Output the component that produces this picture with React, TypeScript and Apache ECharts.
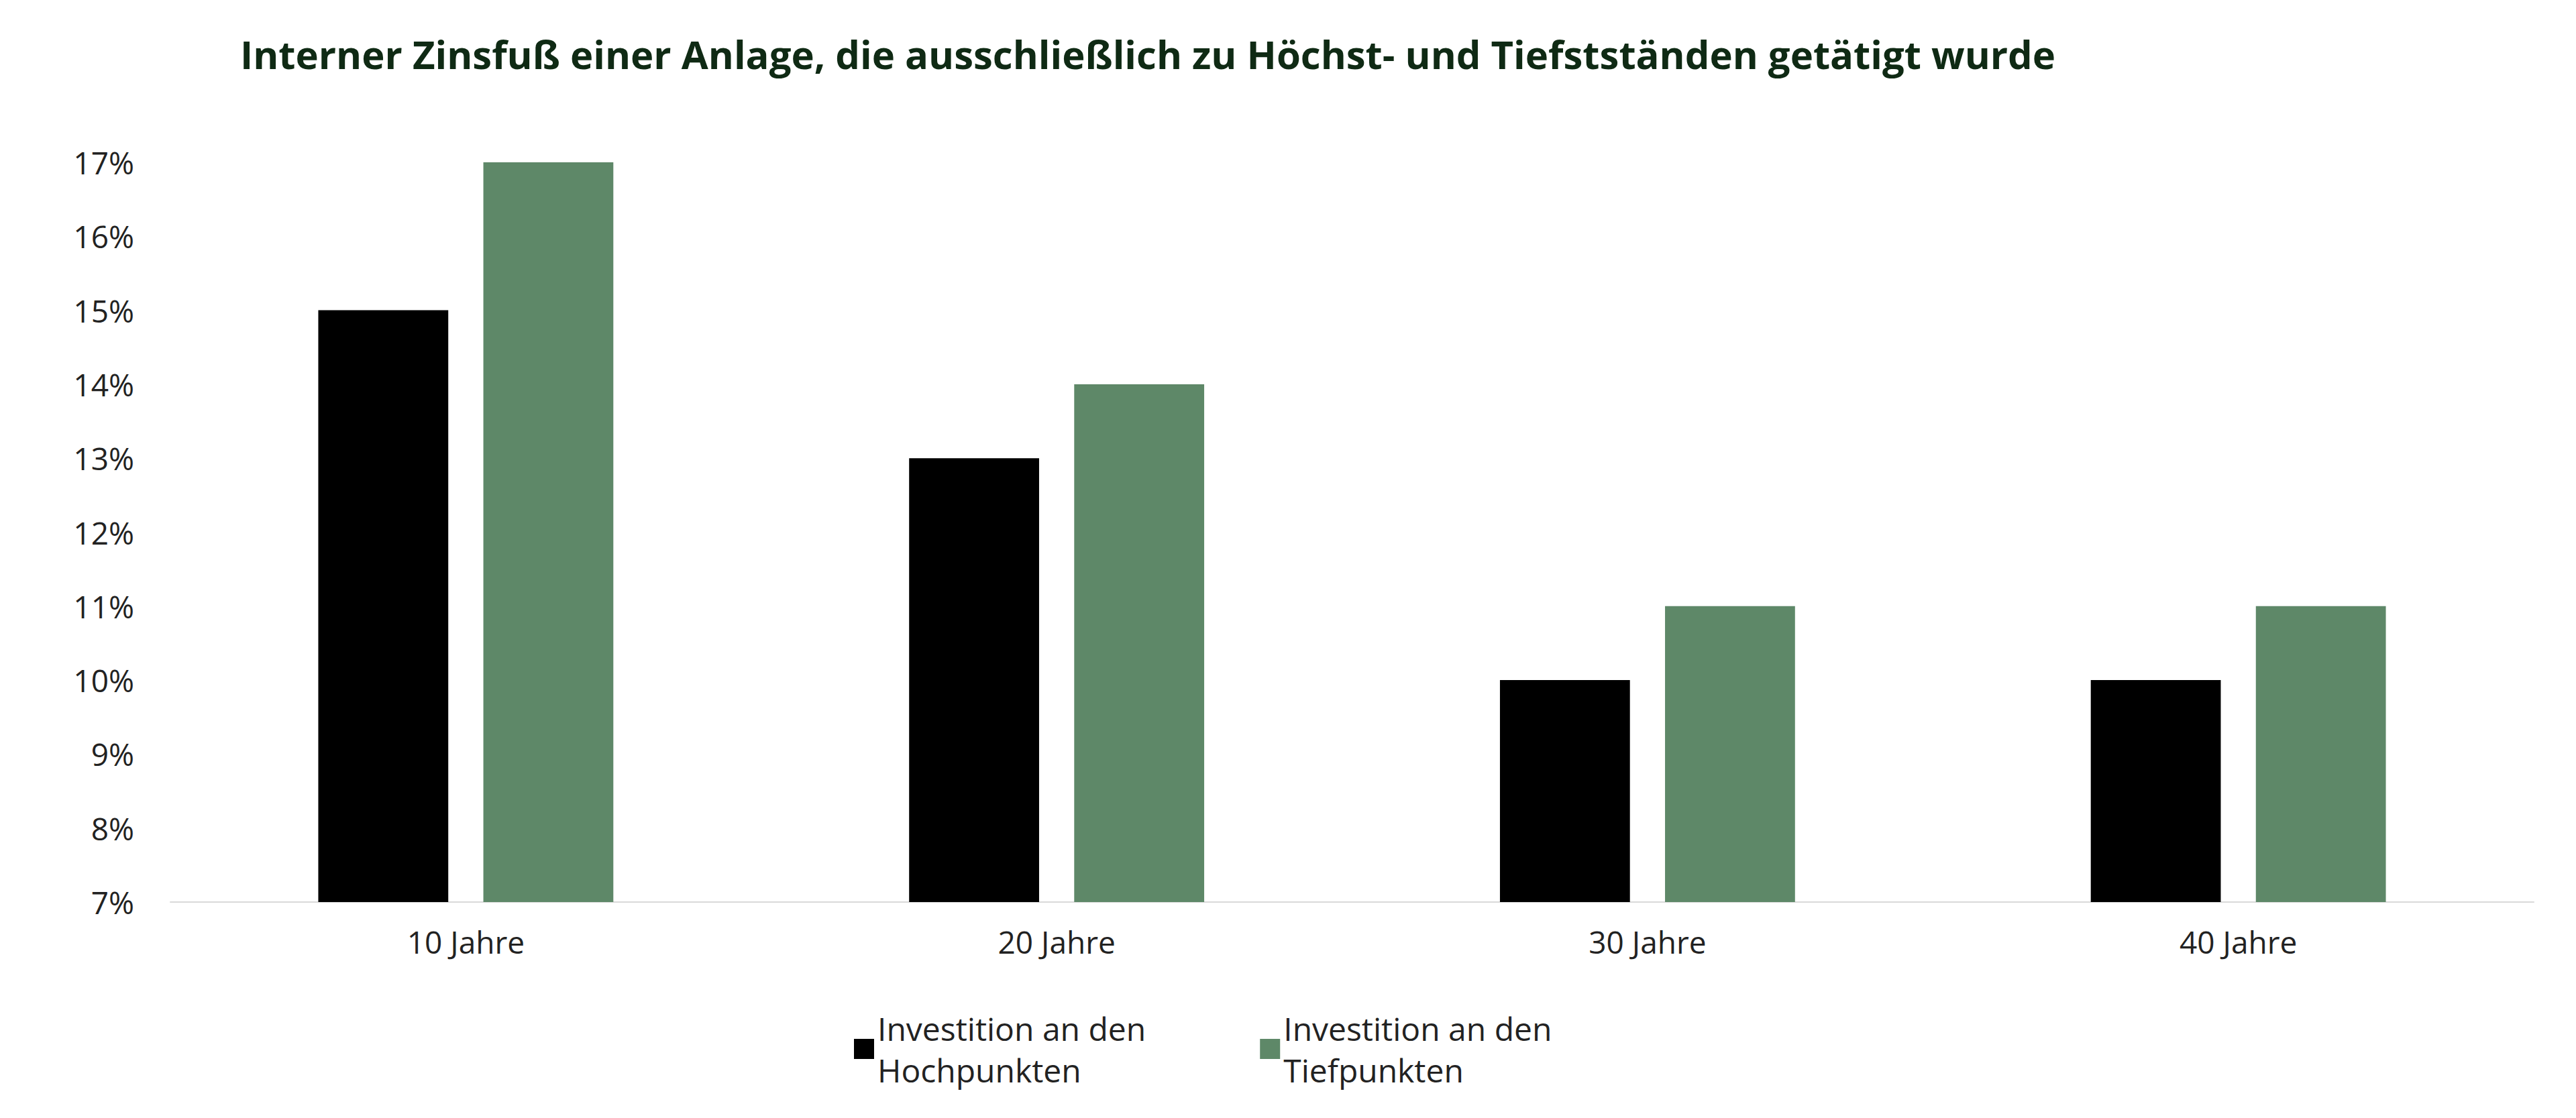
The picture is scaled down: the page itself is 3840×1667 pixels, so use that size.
import React, { useEffect, useRef } from 'react';
import * as echarts from 'echarts';

const categories = ['10 Jahre', '20 Jahre', '30 Jahre', '40 Jahre'];
const seriesNames = ['Investition an den\nHochpunkten', 'Investition an den\nTiefpunkten'];
const highValues = [15, 13, 10, 10];
const lowValues = [17, 14, 11, 11];

const App: React.FC = () => {
  const chartRef = useRef<HTMLDivElement>(null);

  useEffect(() => {
    if (!chartRef.current) return;
    const chart = echarts.init(chartRef.current, undefined, { renderer: 'svg' });
    const font = '"Open Sans", "Noto Sans", sans-serif';

    chart.setOption({
      animation: false,
      backgroundColor: '#fff',
      textStyle: { fontFamily: font },
      title: {
        text: 'Interner Zinsfuß einer Anlage, die ausschließlich zu Höchst- und Tiefstständen getätigt wurde',
        left: 345,
        top: 38,
        textStyle: { fontFamily: font, fontSize: 58, fontWeight: 'bold', color: '#0f2a14' },
      },
      grid: { left: 246, right: 55, top: 234, bottom: 314 },
      legend: {
        bottom: 28,
        left: 1260,
        itemWidth: 30,
        itemHeight: 30,
        itemGap: 170,
        icon: 'rect',
        textStyle: { fontFamily: font, fontSize: 48, color: '#222', lineHeight: 62 },
        data: seriesNames,
      },
      xAxis: {
        type: 'category',
        data: categories,
        axisLine: { lineStyle: { color: '#d9d9d9', width: 2 } },
        axisTick: { show: false },
        axisLabel: { fontFamily: font, fontSize: 46, color: '#222', margin: 36 },
      },
      yAxis: {
        type: 'value',
        min: 7,
        max: 17,
        interval: 1,
        splitLine: { show: false },
        axisLine: { show: false },
        axisTick: { show: false },
        axisLabel: { fontFamily: font, fontSize: 46, color: '#222', margin: 54, formatter: '{value}%' },
      },
      series: [
        {
          name: seriesNames[0],
          type: 'bar',
          data: highValues,
          barWidth: '22%',
          barGap: '27%',
          itemStyle: { color: '#000000' },
        },
        {
          name: seriesNames[1],
          type: 'bar',
          data: lowValues,
          barWidth: '22%',
          itemStyle: { color: '#5e8868' },
        },
      ],
    });

    return () => chart.dispose();
  }, []);

  return <div ref={chartRef} style={{ width: 3824, height: 1651 }} />;
};

export default App;
